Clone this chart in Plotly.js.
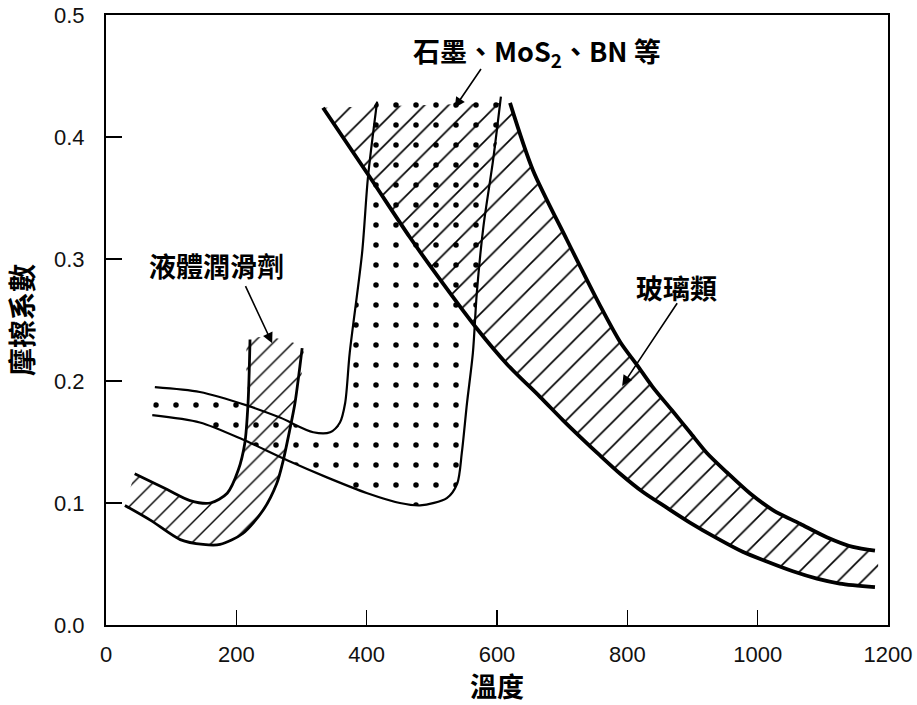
<!DOCTYPE html>
<html>
<head>
<meta charset="utf-8">
<script src="https://cdn.plot.ly/plotly-3.0.1.min.js"></script>
<style>html,body{margin:0;padding:0;background:#fff;}#chart{width:917px;height:705px;}</style>
</head>
<body>
<div id="chart"></div>
<script>
// ---- data (temperature, friction coefficient) ----
const xTicks = [0, 200, 400, 600, 800, 1000, 1200];
const yTicks = [0.0, 0.1, 0.2, 0.3, 0.4, 0.5];

// Liquid lubricants band
const liquidUpperX = [44, 94, 129, 160, 186, 203, 213, 218, 221];
const liquidUpperY = [0.124, 0.111, 0.102, 0.100, 0.108, 0.127, 0.149, 0.182, 0.234];
const liquidLowerX = [29, 68, 114, 149, 175, 210, 241, 262, 272, 282, 290, 301];
const liquidLowerY = [0.098, 0.086, 0.070, 0.066, 0.066, 0.075, 0.094, 0.116, 0.135, 0.160, 0.182, 0.227];

// Solid lubricants band (graphite, MoS2, BN ...)
const solidUpperX = [75, 144, 216, 267, 318, 344, 359, 367, 374, 393, 402, 416];
const solidUpperY = [0.195, 0.191, 0.180, 0.170, 0.158, 0.158, 0.166, 0.182, 0.223, 0.305, 0.367, 0.429];
const solidLowerX = [71, 144, 210, 278, 339, 401, 451, 482, 523, 539, 546, 554, 563, 569, 579, 594, 606];
const solidLowerY = [0.172, 0.166, 0.152, 0.135, 0.121, 0.108, 0.100, 0.098, 0.104, 0.116, 0.141, 0.182, 0.223, 0.272, 0.326, 0.381, 0.433];

// Glass band
const glassLowerX = [333, 405, 466, 517, 569, 615, 666, 701, 732, 758, 789, 824, 861, 896, 938, 977, 1014, 1054, 1091, 1126, 1180];
const glassLowerY = [0.424, 0.367, 0.318, 0.280, 0.243, 0.214, 0.187, 0.168, 0.152, 0.139, 0.124, 0.109, 0.096, 0.084, 0.071, 0.060, 0.052, 0.044, 0.038, 0.034, 0.031];
const glassUpperX = [620, 655, 707, 758, 789, 815, 839, 870, 896, 922, 953, 988, 1024, 1065, 1106, 1146, 1180];
const glassUpperY = [0.428, 0.373, 0.316, 0.262, 0.232, 0.213, 0.195, 0.175, 0.158, 0.141, 0.125, 0.108, 0.094, 0.083, 0.072, 0.064, 0.061];

const labels = {
  solid: '石墨、MoS<sub>2</sub>、BN 等',
  liquid: '液體潤滑劑',
  glass: '玻璃類',
  xTitle: '溫度',
  yTitle: '摩擦系數'
};

// ---- build traces ----
function band(ux, uy, lx, ly, pattern) {
  return {
    x: ux.concat(lx.slice().reverse()),
    y: uy.concat(ly.slice().reverse()),
    mode: 'lines', fill: 'toself',
    line: {width: 0, shape: 'spline', smoothing: 0.8, color: 'rgba(0,0,0,0)'},
    fillcolor: 'rgba(0,0,0,0)',
    fillpattern: Object.assign({fgcolor: '#000', fgopacity: 1, bgcolor: 'rgba(0,0,0,0)', fillmode: 'overlay'}, pattern),
    hoverinfo: 'skip', showlegend: false
  };
}
function edge(x, y, w) {
  return {x: x, y: y, mode: 'lines', line: {color: '#000', width: w, shape: 'spline', smoothing: 0.8},
          hoverinfo: 'skip', showlegend: false};
}

const traces = [
  band(glassLowerX, glassLowerY, glassUpperX, glassUpperY, {shape: '/', size: 17, solidity: 0.1}),
  band(liquidUpperX, liquidUpperY, liquidLowerX, liquidLowerY, {shape: '/', size: 14, solidity: 0.1}),
  band(solidUpperX, solidUpperY, solidLowerX, solidLowerY, {shape: '.', size: 20, solidity: 0.06}),
  edge(liquidUpperX, liquidUpperY, 2.8),
  edge(liquidLowerX, liquidLowerY, 2.8),
  edge(solidUpperX, solidUpperY, 2.2),
  edge(solidLowerX, solidLowerY, 2.2),
  edge(glassLowerX, glassLowerY, 3.8),
  edge(glassUpperX, glassUpperY, 3.8)
];

const cjk = '"Noto Sans CJK TC", "Noto Sans CJK SC", sans-serif';
const labelFont = {family: cjk, size: 27, color: '#000', weight: 700};
const arrowStyle = {showarrow: true, arrowhead: 2, arrowsize: 1.3, arrowwidth: 1.6, arrowcolor: '#000',
                    axref: 'x', ayref: 'y', text: ''};

const layout = {
  width: 917, height: 705,
  margin: {l: 106, r: 29, t: 15, b: 80},
  paper_bgcolor: '#fff', plot_bgcolor: '#fff',
  showlegend: false, hovermode: false,
  font: {family: '"Liberation Sans", Arial, sans-serif', color: '#000'},
  xaxis: {
    range: [0, 1200], tickvals: xTicks, ticktext: xTicks.map(String),
    ticks: 'inside', ticklen: 15, tickwidth: 1.5, tickcolor: '#000',
    showline: true, linewidth: 2, linecolor: '#000', mirror: true,
    showgrid: false, zeroline: false,
    tickfont: {size: 22, color: '#111'}, ticklabelstandoff: 9,
    title: {text: labels.xTitle, font: {family: cjk, size: 27, weight: 700, color: '#000'}, standoff: 17}
  },
  yaxis: {
    range: [0, 0.5], tickvals: yTicks, ticktext: yTicks.map(v => v.toFixed(1)),
    ticks: 'inside', ticklen: 16, tickwidth: 1.5, tickcolor: '#000',
    showline: true, linewidth: 2, linecolor: '#000', mirror: true,
    showgrid: false, zeroline: false,
    tickfont: {size: 22, color: '#111'}, ticklabelstandoff: 15,
    title: {text: labels.yTitle, font: {family: cjk, size: 28, weight: 700, color: '#000'}, standoff: 12}
  },
  annotations: [
    {x: 661, y: 0.470, text: labels.solid, showarrow: false, font: labelFont},
    {x: 170, y: 0.295, text: labels.liquid, showarrow: false, font: labelFont},
    {x: 875, y: 0.277, text: labels.glass, showarrow: false, font: labelFont},
    Object.assign({x: 535, y: 0.424, ax: 577, ay: 0.457}, arrowStyle),
    Object.assign({x: 255, y: 0.231, ax: 213, ay: 0.279}, arrowStyle),
    Object.assign({x: 792, y: 0.196, ax: 878, ay: 0.265}, arrowStyle)
  ]
};

Plotly.newPlot('chart', traces, layout, {staticPlot: true, displayModeBar: false});
</script>
</body>
</html>
